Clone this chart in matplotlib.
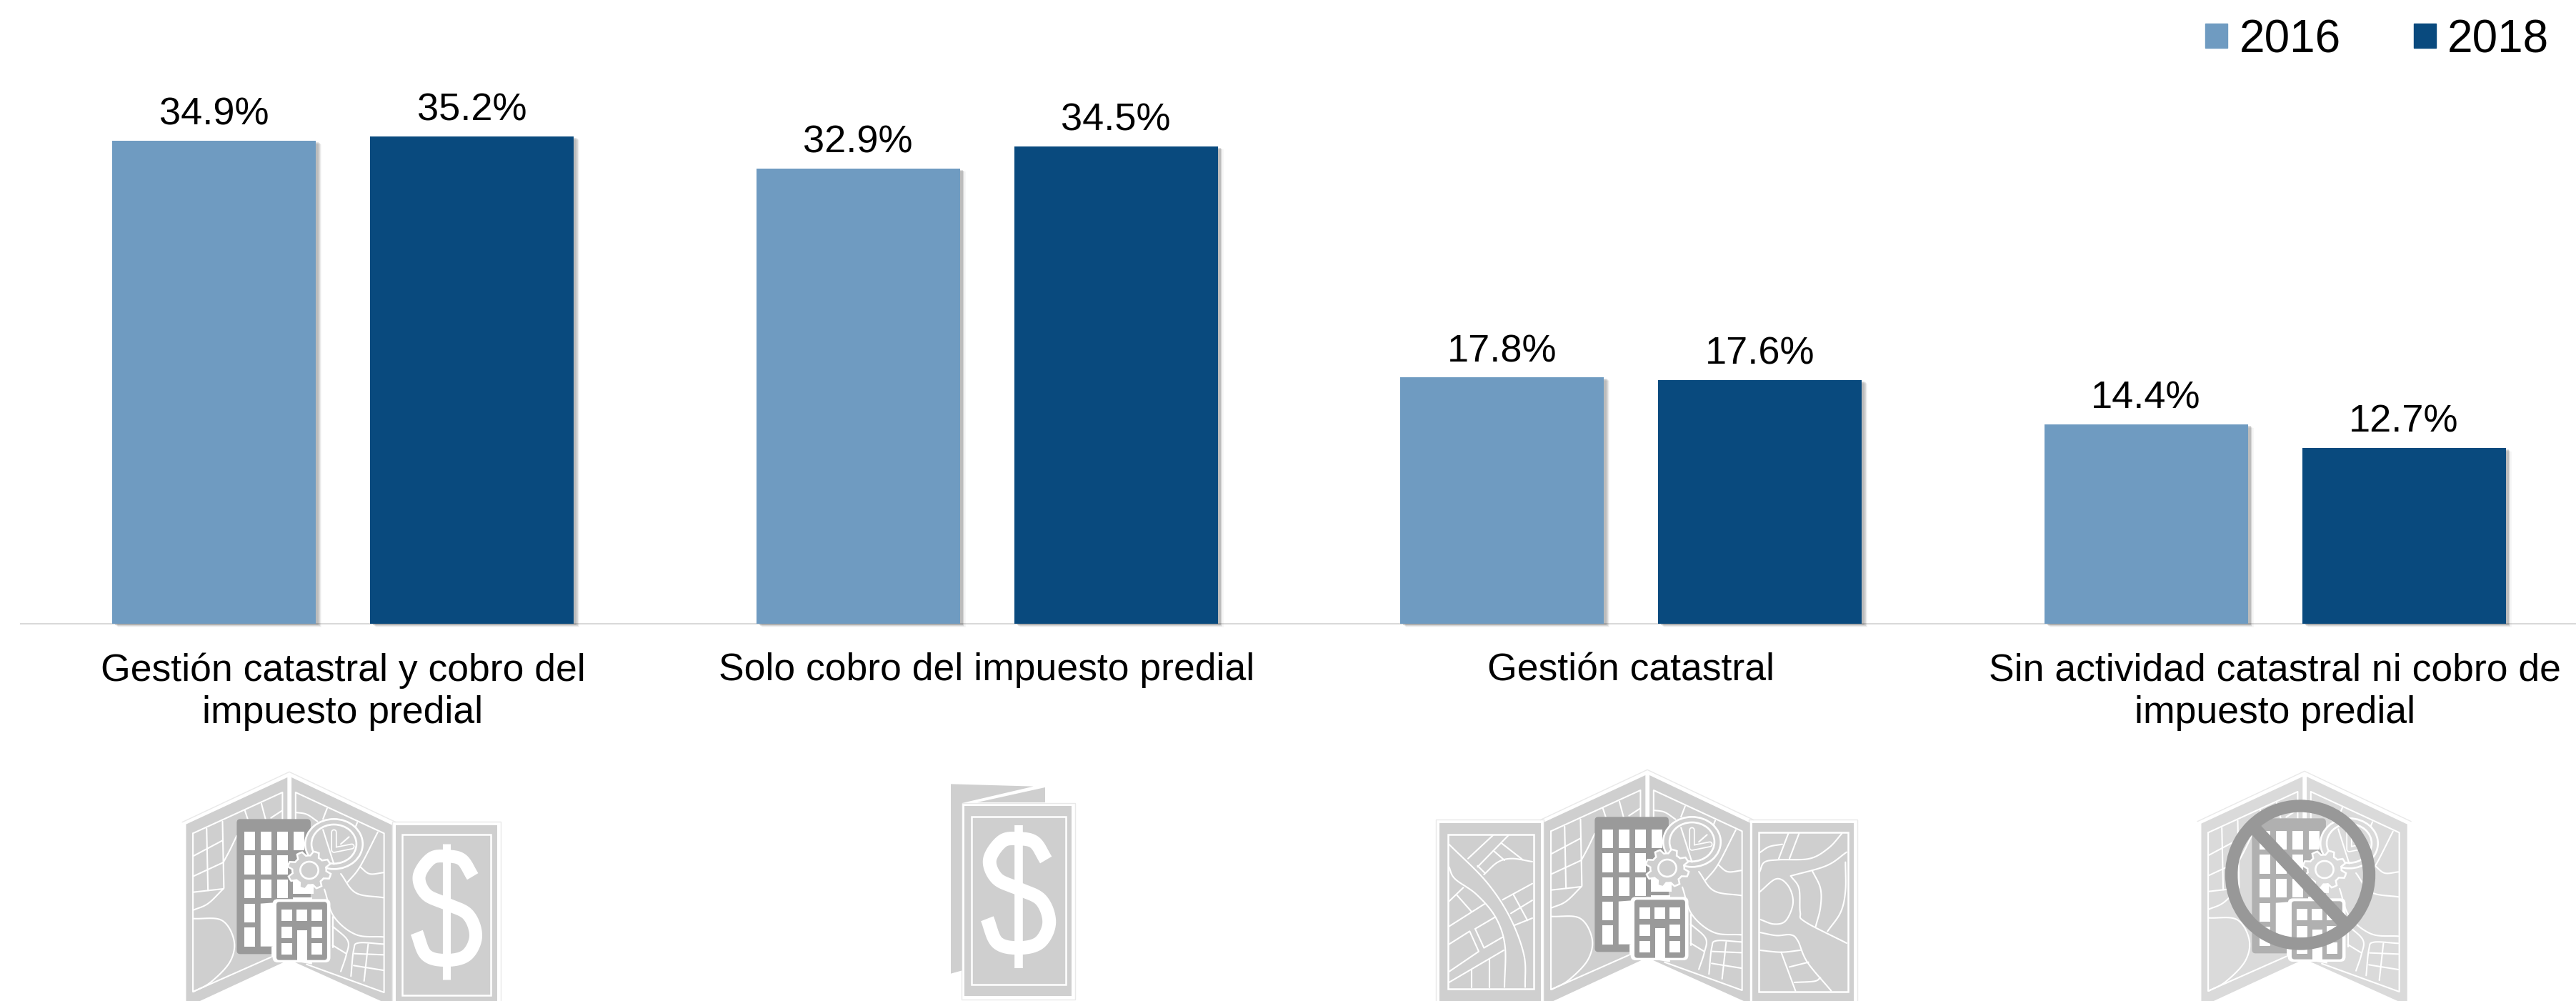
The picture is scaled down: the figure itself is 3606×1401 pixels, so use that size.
import numpy as np
import matplotlib
matplotlib.use("Agg")
import matplotlib.pyplot as plt
import matplotlib.patheffects as pe
from matplotlib.patches import Polygon, Circle, Patch, FancyBboxPatch, Ellipse

plt.rcParams['font.family'] = ['Liberation Sans', 'DejaVu Sans']

# ---------- data ----------
categories = ["Gestión catastral y cobro del\nimpuesto predial",
              "Solo cobro del impuesto predial",
              "Gestión catastral",
              "Sin actividad catastral ni cobro de\nimpuesto predial"]
series_names = ["2016", "2018"]
values_2016 = [34.9, 32.9, 17.8, 14.4]
values_2018 = [35.2, 34.5, 17.6, 12.7]
colors = ["#6F9BC1", "#094A7E"]

W, H = 3606, 1401
fig = plt.figure(figsize=(W/100, H/100), dpi=100, facecolor='white')
ax = fig.add_axes([0, 0, 1, 1])

pitch = 901.5; x0_px = 480; base_px = 873; px_per = 19.375
ax.set_xlim(-x0_px/pitch, (W-x0_px)/pitch)
ax.set_ylim(-(H-base_px)/px_per, base_px/px_per)
ax.patch.set_alpha(0)

shadow = [pe.SimplePatchShadow(offset=(6.0, -3.4), shadow_rgbFace='k', alpha=0.03),
          pe.SimplePatchShadow(offset=(5.0, -2.8), shadow_rgbFace='k', alpha=0.05),
          pe.SimplePatchShadow(offset=(4.0, -2.2), shadow_rgbFace='k', alpha=0.08),
          pe.SimplePatchShadow(offset=(3.0, -1.6), shadow_rgbFace='k', alpha=0.12),
          pe.Normal()]
x = np.arange(len(categories))
bw = 285/pitch; off = 180.5/pitch
b1 = ax.bar(x-off, values_2016, bw, color=colors[0], zorder=3)
b2 = ax.bar(x+off, values_2018, bw, color=colors[1], zorder=3)
for b in list(b1)+list(b2):
    b.set_path_effects(shadow)
for c in (b1, b2):
    ax.bar_label(c, fmt='%.1f%%', fontsize=39, padding=8, color='black', zorder=4)

for s in ('top', 'left', 'right'):
    ax.spines[s].set_visible(False)
ax.spines['bottom'].set_position(('data', 0))
ax.spines['bottom'].set_bounds(-451/pitch, (W-x0_px)/pitch)
ax.spines['bottom'].set_color('#D9D9D9')
ax.spines['bottom'].set_linewidth(1.5)
ax.spines['bottom'].set_zorder(1)
ax.set_yticks([])
ax.set_xticks(x)
ax.set_xticklabels(categories, fontsize=38.5, color='black', linespacing=1.24)
ax.tick_params(axis='x', length=0, pad=29)

handles = [Patch(color=colors[0], label=series_names[0]), Patch(color=colors[1], label=series_names[1])]
ax.legend(handles=handles, loc='upper right', bbox_to_anchor=(3568/W, 1-26/H),
          bbox_transform=fig.transFigure, ncol=2, frameon=False, fontsize=46,
          handlelength=0.49, handleheight=0.43, handletextpad=0.25, columnspacing=1.6,
          borderpad=0, borderaxespad=0)

# ---------- decorative icons (overlay in pixel space) ----------
ic = fig.add_axes([0, 0, 1, 1])
ic.set_xlim(0, W); ic.set_ylim(H, 0); ic.axis('off'); ic.patch.set_alpha(0)

LW = 1.5
EDGE = "#E9E9E9"

def smooth(pts, n=12):
    p = np.asarray(pts, float)
    if len(p) < 3:
        return p
    q = np.vstack([2*p[0]-p[1], p, 2*p[-1]-p[-2]])
    out = []
    for i in range(1, len(q)-2):
        t = np.linspace(0, 1, n, endpoint=False)[:, None]
        a, b, c, d = q[i-1], q[i], q[i+1], q[i+2]
        out.append(0.5*(2*b+(c-a)*t+(2*a-5*b+4*c-d)*t**2+(3*b-a-3*c+d)*t**3))
    out.append(p[-1:])
    return np.vstack(out)

class Frame:
    def __init__(self, ox, oy, zx=0, zy=0, sx=1.0):
        self.ox, self.oy, self.zx, self.zy, self.sx = ox, oy, zx, zy, sx
    def T(self, pts):
        p = np.asarray(pts, float)
        return np.c_[self.ox+self.sx*(p[:, 0]-self.zx)/3, self.oy+(p[:, 1]-self.zy)/3]
    def poly(self, pts, fc, ec='none', lw=0, z=5):
        ic.add_patch(Polygon(self.T(pts), closed=True, fc=fc, ec=ec, lw=lw, zorder=z))
    def rect(self, a, b, c, d, fc='white', ec='none', lw=0, z=5):
        self.poly([(a, b), (c, b), (c, d), (a, d)], fc, ec, lw, z)
    def rrect(self, a, b, c, d, r, fc, z=5):
        (A, B), (C, D) = self.T([(a, b), (c, d)])
        ic.add_patch(FancyBboxPatch((A+r, B+r), C-A-2*r, D-B-2*r, boxstyle=f"round,pad={r},rounding_size={r}",
                                    fc=fc, ec='none', zorder=z))
    def line(self, pts, c='white', lw=LW, z=6, curved=True):
        p = self.T(smooth(pts) if curved else pts)
        ic.plot(p[:, 0], p[:, 1], color=c, lw=lw, zorder=z, solid_capstyle='round', solid_joinstyle='round')

STREETS = [
    [(235, 330), (240, 590)], [(293, 300), (298, 580)], [(187, 445), (293, 380)], [(187, 530), (296, 472)],
    [(187, 597), (296, 583)], [(187, 672), (240, 645), (296, 583)], [(296, 472), (320, 420), (345, 360)],
    [(187, 708), (290, 715), (335, 800), (320, 890), (250, 975), (187, 1015)],
    [(375, 255), (385, 290)], [(435, 225), (450, 290)], [(470, 285), (510, 255)],
    [(560, 262), (600, 270), (640, 300)], [(675, 245), (660, 290)], [(785, 305), (778, 325)],
    [(860, 345), (795, 490), (750, 555)], [(795, 490), (830, 520), (880, 515)],
    [(725, 520), (780, 600), (880, 620)], [(665, 585), (700, 700), (780, 775), (880, 785)],
    [(695, 700), (695, 830)], [(695, 740), (750, 800), (745, 860), (725, 930)], [(695, 820), (745, 855)],
    [(762, 950), (772, 840), (790, 810), (880, 815)], [(775, 855), (880, 860)], [(772, 905), (880, 925)],
    [(825, 815), (810, 970)],
]
GA = np.radians(np.arange(0, 360, 7.5)+11)

def draw_map(fold_x, top_y, sx, panel, dark):
    f = Frame(fold_x, top_y, 537, 115, sx)
    f.poly([(160, 312), (530, 115), (530, 884), (160, 1081)], panel, z=4)
    f.poly([(545, 115), (912, 315), (912, 1075), (545, 885)], panel, z=4)
    f.line([(146, 303), (537, 92), (926, 303)], c=EDGE, lw=1.0, z=3.5, curved=False)
    for pts in ([(185, 350), (512, 178), (512, 300)], [(185, 350), (185, 1015), (470, 870)],
                [(560, 300), (560, 178), (883, 350), (883, 1018), (600, 900)]):
        f.line(pts, curved=False)
    for s in STREETS:
        f.line(s)
    f.rrect(345, 290, 615, 857, 5, dark, z=7)
    for j, (y0, y1) in enumerate([(342, 420), (443, 522), (545, 622), (645, 724), (745, 825)]):
        for i, (a, c) in enumerate([(372, 412), (432, 472), (492, 532), (552, 592)]):
            if (j == 0) or (j == 1 and i < 3) or (j == 2 and i < 3) or (j > 2 and i == 0):
                f.rect(a, y0, c, y1, z=8)
    f.poly([(432, 645), (490, 640), (490, 825), (432, 825)], 'white', z=8)
    f.poly([(472, 825), (620, 825), (620, 900), (472, 870)], 'white', z=8)
    f.poly([(550, 522), (625, 522), (625, 605), (550, 605)], 'white', z=8)
    f.poly([(532, 522), (550, 522), (550, 545), (532, 545)], dark, z=8)
    f.poly([(550, 620), (620, 620), (620, 690), (480, 690), (480, 640), (550, 640)], 'white', z=8)
    cx, cy = f.T([(700, 395)])[0]
    for r, z in ((105, 9), (82, 9)):
        ic.add_patch(Ellipse((cx, cy), 2*r*sx/3, 2*r/3, fc=panel, ec='white', lw=LW+0.4, zorder=z))
    f.line([(700, 345), (700, 420), (765, 405)], lw=6, z=10, curved=False)
    f.line([(700, 345), (700, 420), (765, 405)], c=panel, lw=3.5, z=10, curved=False)
    f.line([(660, 335), (700, 480)], z=9.5, curved=False)
    f.line([(755, 365), (725, 395)], z=9.5, curved=False)
    teeth = np.where((np.arange(len(GA)) % 6) < 3, 80, 62)
    gp = np.c_[610+teeth*np.cos(GA), 505+teeth*np.sin(GA)]
    f.poly(gp, panel, 'white', LW+0.3, z=11)
    gc = f.T([(610, 505)])[0]
    ic.add_patch(Ellipse(gc, 2*33*sx/3, 2*36/3, fc=panel, ec='white', lw=LW+0.4, zorder=12))
    f.rrect(476, 626, 687, 892, 7, 'white', z=13)
    f.rrect(490, 638, 675, 882, 4, dark, z=14)
    for j, (y0, y1) in enumerate([(670, 718), (742, 790), (810, 858)]):
        for i, (a, c) in enumerate([(508, 547), (562, 602), (617, 657)]):
            if i == 1 and j > 0:
                continue
            f.rect(a, y0, c, y1, z=15)
    f.rect(565, 757, 602, 884, z=15)

S_CURVE = [(110, -147), (65, -217), (0, -232), (-65, -222), (-115, -147), (-85, -72), (0, -32),
           (90, 13), (123, 103), (85, 183), (0, 205), (-85, 183), (-125, 88)]

def dollar(xc, yc, k=1.0, z=6):
    s = np.array(S_CURVE, float)*k/3
    p = smooth(s)
    ic.plot(xc+p[:, 0], yc+p[:, 1], color='white', lw=13*k, solid_capstyle='butt', zorder=z)
    h = 284.5*k/3
    ic.plot([xc, xc], [yc-h, yc+h], color='white', lw=8*k, solid_capstyle='butt', zorder=z)

def panel_rect(f, a, b, c, d, ia, ib, ic_, id_):
    f.rect(a-14, b-14, c+14, d, 'none', EDGE, 1.0, z=3.5)
    f.rect(a, b, c, d, PANEL, z=4)
    f.rect(ia, ib, ic_, id_, 'none', 'white', LW+0.3, z=5)

PANEL = "#CFCFCF"; DARK = "#9A9A9A"

# icon 1
draw_map(405, 1088, 1.15, PANEL, DARK)
f1 = Frame(250, 1070)
panel_rect(f1, 912, 255, 1338, 1100, 938, 295, 1312, 968)
dollar(625, 1275.7, 1.0)

# icon 2
f2 = Frame(1250, 1050)
f2.poly([(243, 142), (590, 152), (290, 222), (290, 925), (243, 938)], PANEL, z=4)
f2.poly([(640, 155), (640, 220), (355, 220)], PANEL, z=4)
f2.rect(300, 235, 750, 1032, PANEL, z=4)
f2.rect(331, 279, 726, 985, 'none', 'white', LW+0.3, z=5)
f2.rect(287, 222, 765, 1046, 'none', EDGE, 1.0, z=3.5)
dollar(1250+527/3, 1050+615/3, 1.05)

# icon 3
draw_map(2306, 1085, 1.15, PANEL, DARK)
f3L = Frame(2000, 1070)
panel_rect(f3L, 45, 245, 470, 1100, 80, 293, 440, 942)
f3R = Frame(2300, 1070)
panel_rect(f3R, 458, 245, 885, 1100, 487, 285, 860, 955)
LEFT3 = [
    [(85, 335), (240, 490), (340, 640), (400, 800), (405, 935)],
    [(85, 430), (110, 480), (200, 545), (280, 640), (320, 760), (318, 935)],
    [(165, 395), (270, 297)], [(205, 430), (335, 297)], [(305, 330), (395, 400)], [(272, 362), (318, 402)],
    [(205, 425), (235, 455)], [(232, 462), (290, 410), (350, 395), (435, 408)],
    [(85, 575), (145, 517)], [(118, 548), (180, 618)], [(85, 680), (235, 585)],
    [(310, 568), (435, 500)], [(345, 625), (435, 570)], [(355, 545), (415, 655)], [(360, 675), (435, 645)],
    [(85, 915), (315, 780)], [(180, 865), (180, 935)], [(255, 820), (255, 935)],
]
LEFT3_STRAIGHT = [
    [(85, 755), (172, 700), (210, 785), (85, 870)], [(195, 690), (280, 640)],
    [(195, 690), (232, 770), (310, 725)],
]
RIGHT3 = [
    [(490, 370), (530, 345), (585, 335)], [(610, 290), (570, 395)], [(655, 290), (615, 395)],
    [(490, 450), (510, 410), (570, 400), (700, 395), (780, 350), (835, 290)],
    [(855, 368), (770, 425), (620, 468)],
    [(490, 535), (560, 480), (610, 510), (630, 580), (600, 655), (550, 670), (490, 650)],
    [(620, 468), (655, 520), (660, 620), (680, 660), (855, 750)],
    [(710, 445), (745, 520), (745, 600), (725, 680)],
    [(850, 410), (850, 530), (830, 620), (775, 700)],
    [(490, 705), (560, 718), (620, 715), (650, 740), (690, 830), (790, 950)],
    [(490, 780), (580, 788), (660, 780)], [(580, 788), (640, 950)], [(615, 850), (695, 830)],
    [(635, 915), (720, 910), (745, 895)],
]
for s in LEFT3:
    f3L.line(s)
for s in LEFT3_STRAIGHT:
    f3L.line(s, curved=False)
for s in RIGHT3:
    f3R.line(s)

# icon 4
draw_map(3226, 1087, 1.15, "#DADADA", "#B0B0B0")
ic.add_patch(Circle((3220, 1224.5), 96.5, fc='none', ec='#989898', lw=12.5, zorder=20))
f4 = Frame(3000, 1050)
f4.line([(470, 330), (848, 730)], c='#989898', lw=13, z=20, curved=False)

fig.savefig("out.png", dpi=100, facecolor='white')
